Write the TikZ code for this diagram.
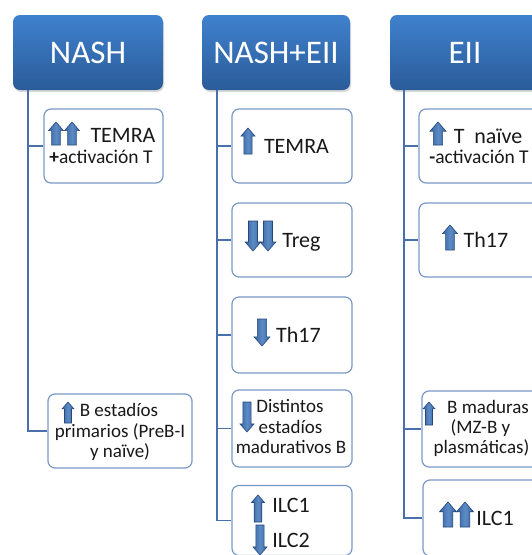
\documentclass[tikz,border=0pt]{standalone}
\usepackage{fontspec}
\setmainfont{Carlito}
\usetikzlibrary{shadows}
\definecolor{hdtop}{RGB}{63,129,206}
\definecolor{hdbot}{RGB}{43,92,153}
\definecolor{boxline}{RGB}{122,152,200}
\definecolor{connline}{RGB}{72,112,172}
\definecolor{arrfill}{RGB}{58,102,160}
\definecolor{arrmid}{RGB}{92,138,196}
\definecolor{arrdraw}{RGB}{38,72,122}
\definecolor{txt}{RGB}{25,25,25}
\tikzset{
  header/.style={rounded corners=7pt, top color=hdtop, bottom color=hdbot, draw=none,
    minimum height=75pt, inner sep=0pt, text=white, font=\fontsize{33}{40}\selectfont,
    drop shadow={opacity=0.3, shadow xshift=1pt, shadow yshift=-2pt}},
  itembox/.style={draw=boxline, line width=1.2pt, rounded corners=7pt, fill=white, inner sep=0pt},
  conn/.style={draw=connline, line width=1.1pt},
  lbl/.style={anchor=base, inner sep=0pt, text=txt},
  big/.style={font=\fontsize{22}{26}\selectfont},
  mid/.style={font=\fontsize{19.5}{23}\selectfont},
  small/.style={font=\fontsize{19}{22}\selectfont},
  blockarrow/.style={left color=arrfill, right color=arrfill, middle color=arrmid,
    draw=arrdraw, line width=0.6pt, line join=miter}
}
% up arrow: x, base y, height, head half-width
\newcommand\ArrUp[4]{\path[blockarrow] (#1-#4*0.58,#2) -- (#1-#4*0.58,#2-#3+#4*1.15) -- (#1-#4,#2-#3+#4*1.15) -- (#1,#2-#3) -- (#1+#4,#2-#3+#4*1.15) -- (#1+#4*0.58,#2-#3+#4*1.15) -- (#1+#4*0.58,#2) -- cycle;}
% down arrow: x, top y, height, head half-width
\newcommand\ArrDn[4]{\path[blockarrow] (#1-#4*0.58,#2) -- (#1-#4*0.58,#2+#3-#4*1.15) -- (#1-#4,#2+#3-#4*1.15) -- (#1,#2+#3) -- (#1+#4,#2+#3-#4*1.15) -- (#1+#4*0.58,#2+#3-#4*1.15) -- (#1+#4*0.58,#2) -- cycle;}
\begin{document}
\begin{tikzpicture}[x=1pt,y=-1pt]
\useasboundingbox (0,0) rectangle (532,555);
\clip (0,0) rectangle (532,555);
% headers
\node[header, minimum width=150pt] (h1) at (88,52.5) {NASH};
\node[header, minimum width=148pt] (h2) at (276,52.5) {NASH+EII};
\node[header, minimum width=150pt] (h3) at (465,52.5) {EII};
\coordinate (s1) at (28,90);
\coordinate (s2) at (217,90);
\coordinate (s3) at (404,90);
% NASH boxes
\node[itembox, minimum width=119pt, minimum height=74pt] (b11) at (103.5,146) {};
\node[itembox, minimum width=144pt, minimum height=74pt] (b12) at (120,431) {};
% NASH+EII boxes
\node[itembox, minimum width=120pt, minimum height=74pt] (b21) at (292,146) {};
\node[itembox, minimum width=120pt, minimum height=74pt] (b22) at (292,240) {};
\node[itembox, minimum width=120pt, minimum height=76pt] (b23) at (292,335) {};
\node[itembox, minimum width=120pt, minimum height=77pt] (b24) at (292,428.5) {};
\node[itembox, minimum width=120pt, minimum height=70pt] (b25) at (292,520.5) {};
% EII boxes
\node[itembox, minimum width=120pt, minimum height=74pt] (b31) at (479,146) {};
\node[itembox, minimum width=120pt, minimum height=74pt] (b32) at (479,240) {};
\node[itembox, minimum width=120pt, minimum height=76pt] (b33) at (482,429) {};
\node[itembox, minimum width=120pt, minimum height=76pt] (b34) at (483,518) {};
% connectors
\draw[conn] (s1) |- (b11.west);
\draw[conn] (s1) |- (b12.west);
\draw[conn] (s2) |- (b21.west);
\draw[conn] (s2) |- (b22.west);
\draw[conn] (s2) |- (b23.west);
\draw[conn] (s2) |- (b24.west);
\draw[conn] (s2) |- (b25.west);
\draw[conn] (s3) |- (b31.west);
\draw[conn] (s3) |- (b32.west);
\draw[conn] (s3) |- (b33.west);
\draw[conn] (s3) |- (b34.west);
% texts NASH
\node[lbl, big] (t11a) at (123,142) {TEMRA};
\node[lbl, mid] (t11b) at (101,163) {{\bfseries +}activación T};
\node[lbl, small] (t12a) at (119,416) {B estadíos};
\node[lbl, small] (t12b) at (120,437) {primarios (PreB-I};
\node[lbl, small] (t12c) at (120,457) {y naïve)};
% texts NASH+EII
\node[lbl, big] (t21) at (296.5,153) {TEMRA};
\node[lbl, big] (t22) at (301.5,247) {Treg};
\node[lbl, big] (t23) at (298.5,342) {Th17};
\node[lbl, small] (t24a) at (290,412) {Distintos};
\node[lbl, small] (t24b) at (290.5,433) {estadíos};
\node[lbl, small] (t24c) at (291,453) {madurativos B};
\node[lbl, big] (t25a) at (291,512) {ILC1};
\node[lbl, big] (t25b) at (291,547) {ILC2};
% texts EII
\node[lbl, big] (t31a) at (488,143) {T\ \ naïve};
\node[lbl, mid] (t31b) at (479,163) {{\bfseries -}activación T};
\node[lbl, big] (t32) at (486,247) {Th17};
\node[lbl, small] (t33a) at (488,413) {B maduras};
\node[lbl, small] (t33b) at (480.5,433) {(MZ-B y};
\node[lbl, small] (t33c) at (481.5,453) {plasmáticas)};
\node[lbl, big] (t34) at (495,525) {ILC1};
% arrows
\ArrUp{56}{145}{23}{7.5}
\ArrUp{72}{145}{23}{7.5}
\ArrUp{68}{423}{21}{6}
\ArrUp{248}{154}{26}{7}
\ArrDn{253}{221}{30}{7.8}
\ArrDn{268}{221}{30}{7.8}
\ArrDn{262}{319}{27}{8}
\ArrDn{247}{402}{30}{7}
\ArrUp{258}{522}{27}{6.5}
\ArrDn{260}{525}{30}{7}
\ArrUp{438}{145}{23}{8}
\ArrUp{450}{250}{25}{7.5}
\ArrUp{429}{425}{23}{6}
\ArrUp{448}{527}{25}{8.5}
\ArrUp{465}{527}{25}{8.5}
\end{tikzpicture}
\end{document}
